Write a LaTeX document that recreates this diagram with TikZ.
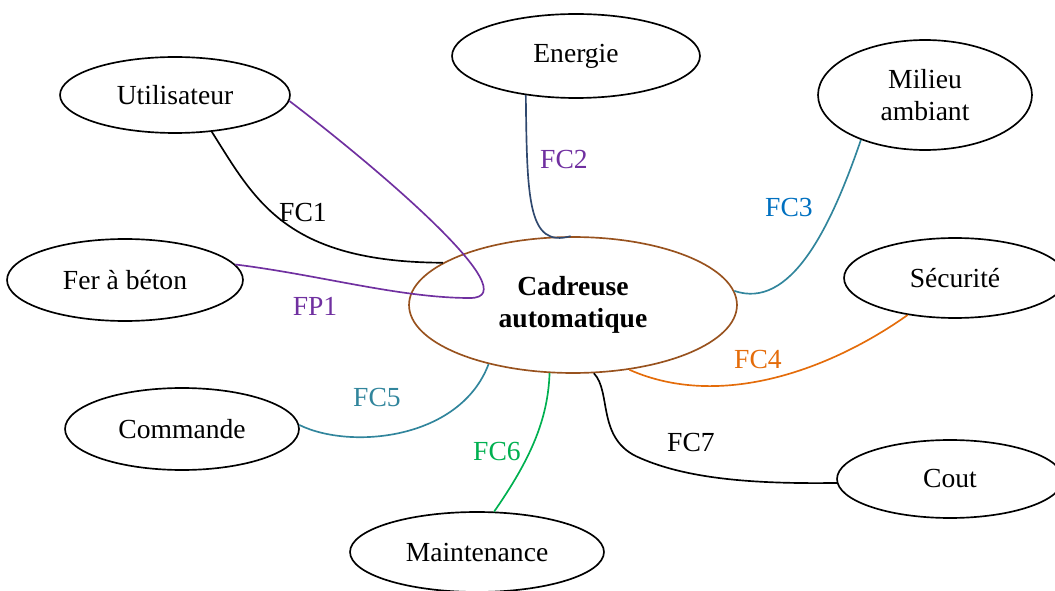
\documentclass[tikz,border=0pt]{standalone}
\usepackage{fontspec}
\setmainfont{Liberation Serif}
\usetikzlibrary{shapes.geometric}
\definecolor{fcpurple}{RGB}{112,48,160}
\definecolor{fcnavy}{RGB}{47,72,110}
\definecolor{fcteal}{RGB}{49,133,156}
\definecolor{fcblue}{RGB}{0,112,192}
\definecolor{fcorange}{RGB}{228,108,10}
\definecolor{fcgreen}{RGB}{0,176,80}
\definecolor{cadbrown}{RGB}{152,82,30}

\begin{document}
\begin{tikzpicture}[x=0.02cm,y=-0.02cm,line width=0.95pt,
    ext node/.style={ellipse,draw,inner sep=0pt,font=\fontsize{15.7}{18}\selectfont},
    main node/.style={ellipse,draw=cadbrown,inner sep=0pt,align=center,font=\fontsize{15.7}{18}\selectfont\bfseries},
    lbl/.style={inner sep=0pt,font=\fontsize{15.7}{18}\selectfont}]
   \useasboundingbox (0,0) rectangle (1055,591);
   % milieu exterieur
   \node[ext node,minimum width=4.6cm,minimum height=1.52cm] (util) at (175,95) {Utilisateur};
   \node[ext node,minimum width=4.96cm,minimum height=1.68cm] (energie) at (576,56) {Energie};
   \node[ext node,minimum width=4.28cm,minimum height=2.2cm,align=center] (milieu) at (925,95) {Milieu\\ambiant};
   \node[ext node,minimum width=4.72cm,minimum height=1.64cm] (fer) at (125,280) {Fer à béton};
   \node[ext node,minimum width=4.44cm,minimum height=1.6cm] (secu) at (955,278) {Sécurité};
   \node[ext node,minimum width=4.68cm,minimum height=1.64cm] (com) at (182,429) {Commande};
   \node[ext node,minimum width=5.08cm,minimum height=1.6cm] (maint) at (477,552) {Maintenance};
   \node[ext node,minimum width=4.52cm,minimum height=1.56cm] (cout) at (950,479) {Cout};
   % produit
   \node[main node,minimum width=6.56cm,minimum height=2.72cm] (cad) at (573,305) {Cadreuse\\automatique};
   % fonctions
   \draw[fcpurple] (util.-3) .. controls (380,170) and (530,298) .. (470,298)
      .. controls (400,298) and (320,275) .. (fer.8);
   \draw (util.-45) .. controls (255,200) and (285,262) .. (cad.162);
   \draw[fcnavy] (energie.-142) .. controls (527,200) and (528,248) .. (cad.92);
   \draw[fcteal] (milieu.-145) .. controls (830,230) and (790,310) .. (cad.5);
   \draw[fcorange] (secu.-142) .. controls (830,370) and (720,410) .. (cad.-49);
   \draw[fcteal] (cad.-145) .. controls (460,440) and (350,450) .. (com.2);
   \draw[fcgreen] (cad.-109) .. controls (548,420) and (530,460) .. (maint.67);
   \draw (cad.-73) .. controls (612,392) and (596,440) .. (640,458)
      .. controls (690,480) and (760,484) .. (cout.182);
   % etiquettes
   \node[lbl] (fc1) at (303,213) {FC1};
   \node[lbl,text=fcpurple] (fp1) at (315,306) {FP1};
   \node[lbl,text=fcpurple] (fc2) at (564,160) {FC2};
   \node[lbl,text=fcblue] (fc3) at (789,208) {FC3};
   \node[lbl,text=fcorange] (fc4) at (758,360) {FC4};
   \node[lbl,text=fcteal] (fc5) at (377,398) {FC5};
   \node[lbl,text=fcgreen] (fc6) at (497,452) {FC6};
   \node[lbl] (fc7) at (691,443) {FC7};
\end{tikzpicture}
\end{document}
